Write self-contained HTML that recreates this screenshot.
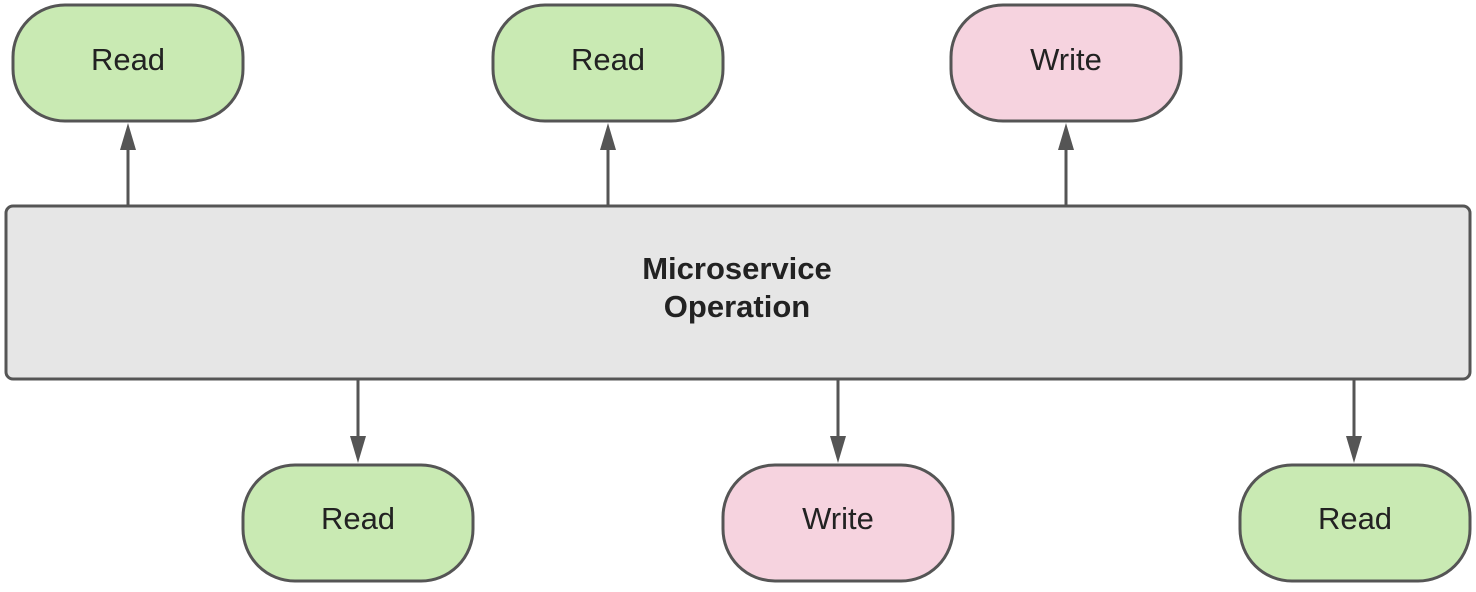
<!DOCTYPE html>
<html><head><style>
body{margin:0;width:1476px;height:587px;background:#fff;overflow:hidden}
</style></head><body>
<svg width="1476" height="587" xmlns="http://www.w3.org/2000/svg" font-family="Liberation Sans, sans-serif">
<g stroke="#555" stroke-width="3">
<rect x="6" y="206" width="1464" height="173" rx="7" fill="#e6e6e6"/>
<rect x="13" y="5" width="230" height="116" rx="52" fill="#c9eab3"/>
<rect x="493" y="5" width="230" height="116" rx="52" fill="#c9eab3"/>
<rect x="951" y="5" width="230" height="116" rx="52" fill="#f6d3df"/>
<rect x="243" y="465" width="230" height="116" rx="52" fill="#c9eab3"/>
<rect x="723" y="465" width="230" height="116" rx="52" fill="#f6d3df"/>
<rect x="1240" y="465" width="230" height="116" rx="52" fill="#c9eab3"/>
<line x1="128" y1="205" x2="128" y2="145"/>
<line x1="608" y1="205" x2="608" y2="145"/>
<line x1="1066" y1="205" x2="1066" y2="145"/>
<line x1="358" y1="380" x2="358" y2="440"/>
<line x1="838" y1="380" x2="838" y2="440"/>
<line x1="1354" y1="380" x2="1354" y2="440"/>
</g>
<g fill="#555">
<path d="M128,123 L120,150 L136,150Z"/>
<path d="M608,123 L600,150 L616,150Z"/>
<path d="M1066,123 L1058,150 L1074,150Z"/>
<path d="M358,463 L350,436 L366,436Z"/>
<path d="M838,463 L830,436 L846,436Z"/>
<path d="M1354,463 L1346,436 L1362,436Z"/>
</g>
<g font-size="31" fill="#222" text-anchor="middle">
<text x="128" y="70">Read</text>
<text x="608" y="70">Read</text>
<text x="1066" y="70">Write</text>
<text x="358" y="529">Read</text>
<text x="838" y="529">Write</text>
<text x="1355" y="529">Read</text>
</g>
<g font-size="31" font-weight="bold" fill="#222" text-anchor="middle">
<text x="737" y="279">Microservice</text>
<text x="737" y="317">Operation</text>
</g>
</svg>
</body></html>
